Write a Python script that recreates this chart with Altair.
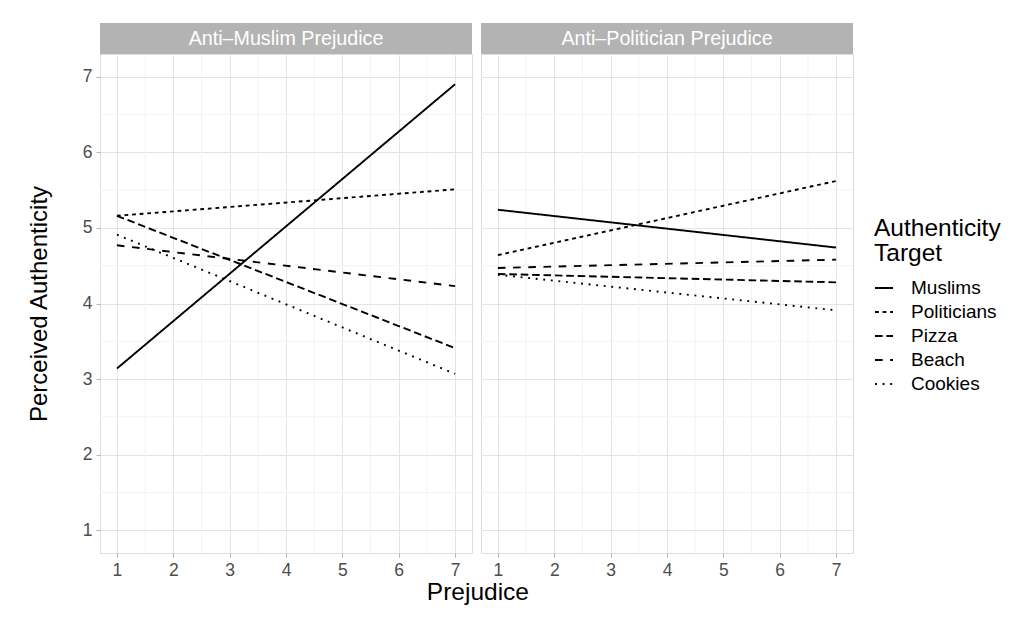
import altair as alt
import pandas as pd

panels = ["Anti\u2013Muslim Prejudice", "Anti\u2013Politician Prejudice"]
targets = ["Muslims", "Politicians", "Pizza", "Beach", "Cookies"]
x_points = [1, 7]
# values at prejudice = 1 and prejudice = 7
muslim_panel = {
    "Muslims": [3.14, 6.90],
    "Politicians": [5.16, 5.51],
    "Pizza": [5.16, 3.41],
    "Beach": [4.77, 4.23],
    "Cookies": [4.91, 3.07],
}
politician_panel = {
    "Muslims": [5.24, 4.74],
    "Politicians": [4.64, 5.62],
    "Pizza": [4.39, 4.28],
    "Beach": [4.47, 4.58],
    "Cookies": [4.38, 3.91],
}
major_ticks = [1, 2, 3, 4, 5, 6, 7]
minor_breaks = [1.5, 2.5, 3.5, 4.5, 5.5, 6.5]
dashes = [[1, 0], [3.8, 3.8], [7.6, 3.8], [7.6, 7.6], [1.9, 5.7]]

FONT = "Liberation Sans"
W, H, STRIP = 372, 499, 31
DOM = [0.7, 7.3]
TICKFS = 17.5


def make_df(vals):
    rows = []
    for t in targets:
        for xv, yv in zip(x_points, vals[t]):
            rows.append({"target": t, "x": xv, "y": yv})
    return pd.DataFrame(rows)


def panel(name, vals, first):
    df = make_df(vals)
    xs = alt.Scale(domain=DOM, nice=False, zero=False)
    ys = alt.Scale(domain=DOM, nice=False, zero=False)
    xaxis = alt.Axis(values=major_ticks, title=None, grid=True, domain=False,
                     tickColor="#b3b3b3", tickSize=4, labelFontSize=TICKFS,
                     labelColor="#4d4d4d", labelPadding=4, labelFont=FONT,
                     gridColor="#e4e4e4", format="d")
    if first:
        yaxis = alt.Axis(values=major_ticks, title="Perceived Authenticity",
                         grid=True, domain=False, tickColor="#b3b3b3", tickSize=4,
                         labelFontSize=TICKFS, labelColor="#4d4d4d", labelPadding=4,
                         labelFont=FONT, titleFont=FONT, titleFontSize=24,
                         titleFontWeight="normal", titleColor="black",
                         titlePadding=31, gridColor="#e4e4e4", format="d")
    else:
        yaxis = alt.Axis(values=major_ticks, title=None, labels=False, ticks=False,
                         grid=True, domain=False, gridColor="#e4e4e4")

    minor = pd.DataFrame({"m": minor_breaks})
    vminor = alt.Chart(minor).mark_rule(color="#f2f2f2", strokeWidth=1).encode(
        x=alt.X("m:Q", scale=xs, axis=xaxis))
    hminor = alt.Chart(minor).mark_rule(color="#f2f2f2", strokeWidth=1).encode(
        y=alt.Y("m:Q", scale=ys, axis=yaxis))

    lines = alt.Chart(df).mark_line(color="black", strokeWidth=1.9,
                                    strokeCap="butt").encode(
        x=alt.X("x:Q", scale=xs, axis=xaxis),
        y=alt.Y("y:Q", scale=ys, axis=yaxis),
        detail="target:N",
        strokeDash=alt.StrokeDash(
            "target:N",
            scale=alt.Scale(domain=targets, range=dashes),
            legend=alt.Legend(
                title=["Authenticity", "Target"], orient="none",
                legendX=774, legendY=163,
                symbolType="stroke", symbolStrokeColor="black",
                symbolStrokeWidth=1.9, symbolSize=324,
                labelFontSize=19, labelFont=FONT, labelColor="black",
                titleFontSize=24.5, titleFont=FONT, titleFontWeight="normal",
                titleColor="black", titleLineHeight=24.5, titlePadding=12,
                rowPadding=4, labelOffset=17,
            ),
        ),
    )

    sdf = pd.DataFrame({"panel": [name]})
    strip = alt.Chart(sdf).mark_rect(color="#b3b3b3").encode(
        x=alt.value(0), x2=alt.value(W), y=alt.value(-STRIP), y2=alt.value(0))
    stext = alt.Chart(sdf).mark_text(color="white", fontSize=19.7, font=FONT,
                                     baseline="middle", align="center").encode(
        text="panel:N", x=alt.value(W / 2), y=alt.value(-STRIP / 2))

    return alt.layer(vminor, hminor, lines, strip, stext).properties(width=W, height=H)


chart = alt.hconcat(
    panel(panels[0], muslim_panel, True),
    panel(panels[1], politician_panel, False),
    spacing=7,
).properties(
    title=alt.TitleParams("Prejudice", orient="bottom", anchor="middle",
                          frame="bounds", fontSize=24.5, font=FONT,
                          fontWeight="normal", color="black", offset=2, dx=-36),
    padding={"left": 18, "top": 14, "right": 5, "bottom": 5},
).configure_view(stroke="#b3b3b3", strokeWidth=1).configure(
    background="white"
)

chart.save("out.html", embed_options={"renderer": "svg", "actions": False})
